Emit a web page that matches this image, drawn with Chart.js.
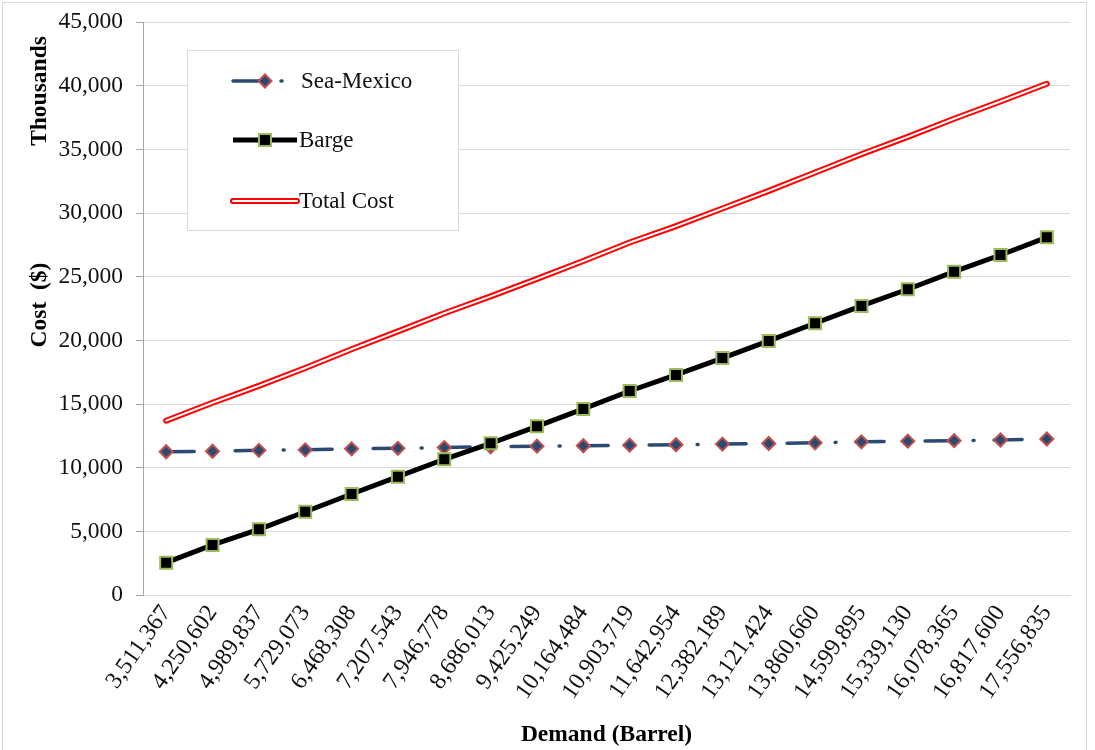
<!DOCTYPE html>
<html>
<head>
<meta charset="utf-8">
<title>Cost vs Demand</title>
<script src="https://cdn.jsdelivr.net/npm/chart.js@4.4.1/dist/chart.umd.min.js"></script>
<style>
  html, body { margin: 0; padding: 0; background: #fff; }
  #wrap { width: 1095px; height: 750px; position: relative; }
  canvas { display: block; }
</style>
</head>
<body>
<div id="wrap"><canvas id="chart" width="1095" height="750"></canvas></div>
<script>
// Demand levels (barrels) used as category labels
const demandLabels = [
  '3,511,367', '4,250,602', '4,989,837', '5,729,073', '6,468,308',
  '7,207,543', '7,946,778', '8,686,013', '9,425,249', '10,164,484',
  '10,903,719', '11,642,954', '12,382,189', '13,121,424', '13,860,660',
  '14,599,895', '15,339,130', '16,078,365', '16,817,600', '17,556,835'
];

// Costs in thousands of dollars
const seaMexico = [
  11250, 11290, 11360, 11400, 11480, 11520, 11580, 11640, 11690, 11720,
  11770, 11800, 11850, 11900, 11950, 12030, 12080, 12120, 12170, 12250
];
const barge = [
  2540, 3930, 5160, 6540, 7930, 9290, 10660, 11910, 13250, 14610,
  16020, 17280, 18610, 19950, 21340, 22700, 24010, 25390, 26700, 28090
];
const totalCost = [
  13690, 15100, 16420, 17830, 19300, 20700, 22130, 23450, 24830, 26230,
  27680, 28970, 30350, 31740, 33180, 34620, 35980, 37400, 38760, 40150
];

// Y axis ticks
const yMax = 45000;
const yStep = 5000;

const FONT = "'Liberation Serif', 'Times New Roman', serif";
const NAVY = '#2B4A72';

// Legend box, axis titles and outer frame
const decorations = {
  id: 'decorations',
  afterDraw(chart) {
    const ctx = chart.ctx;
    const area = chart.chartArea;
    ctx.save();

    // outer frame
    ctx.strokeStyle = '#D9D9D9';
    ctx.lineWidth = 1;
    ctx.strokeRect(2.5, 2.5, 1084, 760);

    // axis titles
    ctx.fillStyle = '#000';
    ctx.font = 'bold 23.5px ' + FONT;
    ctx.textAlign = 'center';
    ctx.textBaseline = 'middle';
    ctx.fillText('Demand (Barrel)', (area.left + area.right) / 2, 735);

    ctx.save();
    ctx.translate(40, 305);
    ctx.rotate(-Math.PI / 2);
    ctx.fillText('Cost  ($)', 0, 0);
    ctx.restore();

    ctx.save();
    ctx.translate(40, 91);
    ctx.rotate(-Math.PI / 2);
    ctx.fillText('Thousands', 0, 0);
    ctx.restore();

    // legend box
    const bx = 187.5, by = 50.5, bw = 271, bh = 180;
    ctx.fillStyle = '#fff';
    ctx.fillRect(bx, by, bw, bh);
    ctx.strokeStyle = '#D9D9D9';
    ctx.strokeRect(bx, by, bw, bh);

    const rows = [
      { ds: chart.data.datasets.find(d => d.label === 'Sea-Mexico'), y: 81 },
      { ds: chart.data.datasets.find(d => d.label === 'Barge'), y: 140 },
      { ds: chart.data.datasets.find(d => d.label === 'Total Cost'), y: 201 }
    ];
    const x0 = 233, x1 = 297;
    rows.forEach(r => {
      const ds = r.ds;
      ctx.save();
      ctx.strokeStyle = ds.borderColor;
      ctx.lineWidth = ds.borderWidth;
      ctx.lineCap = ds.borderCapStyle || 'butt';
      ctx.setLineDash(ds.borderDash || []);
      ctx.beginPath();
      ctx.moveTo(x0, r.y);
      ctx.lineTo(x1, r.y);
      ctx.stroke();
      if (ds.label === 'Total Cost') {
        ctx.strokeStyle = '#fff';
        ctx.lineWidth = 2;
        ctx.beginPath();
        ctx.moveTo(x0, r.y);
        ctx.lineTo(x1, r.y);
        ctx.stroke();
      }
      ctx.setLineDash([]);
      if (ds.pointRadius) {
        ctx.fillStyle = ds.pointBackgroundColor;
        ctx.strokeStyle = ds.pointBorderColor;
        ctx.lineWidth = ds.pointBorderWidth;
        Chart.helpers.drawPoint(ctx, {
          pointStyle: ds.pointStyle,
          radius: ds.pointRadius,
          rotation: 0,
          borderWidth: ds.pointBorderWidth
        }, (x0 + x1) / 2, r.y);
      }
      ctx.restore();
      ctx.fillStyle = '#111';
      ctx.font = '23px ' + FONT;
      ctx.textAlign = 'left';
      ctx.textBaseline = 'middle';
      ctx.fillText(ds.label, ds.label === 'Sea-Mexico' ? 301 : 299, r.y + 1);
    });

    ctx.restore();
  }
};

function build() {
  new Chart(document.getElementById('chart'), {
    type: 'line',
    data: {
      labels: demandLabels,
      datasets: [
        {
          label: '',
          data: totalCost,
          borderColor: '#FFFFFF',
          borderWidth: 2,
          borderCapStyle: 'round',
          pointRadius: 0,
          order: 0
        },
        {
          label: 'Total Cost',
          data: totalCost,
          borderColor: '#FF0000',
          borderWidth: 6,
          borderCapStyle: 'round',
          pointRadius: 0,
          order: 1
        },
        {
          label: 'Barge',
          data: barge,
          borderColor: '#000000',
          borderWidth: 5,
          pointStyle: 'rect',
          pointRadius: 8.5,
          pointBorderWidth: 2,
          pointBackgroundColor: '#000000',
          pointBorderColor: '#9BBB59',
          order: 2
        },
        {
          label: 'Sea-Mexico',
          data: seaMexico,
          borderColor: NAVY,
          borderWidth: 3.5,
          borderDash: [28, 20, 1, 20],
          borderCapStyle: 'round',
          pointStyle: 'rectRot',
          pointRadius: 6.5,
          pointBorderWidth: 2,
          pointBackgroundColor: NAVY,
          pointBorderColor: '#C0504D',
          order: 3
        }
      ]
    },
    options: {
      responsive: false,
      animation: false,
      devicePixelRatio: 1,
      layout: { padding: { top: 22, right: 25, left: 0, bottom: 0 } },
      plugins: {
        legend: { display: false },
        tooltip: { enabled: false }
      },
      elements: { line: { tension: 0, fill: false } },
      scales: {
        x: {
          type: 'category',
          offset: true,
          grid: { display: false, drawTicks: false },
          border: { display: true, color: '#D9D9D9', width: 1 },
          ticks: {
            color: '#111',
            font: { family: FONT, size: 24 },
            minRotation: 55,
            maxRotation: 55,
            padding: 5,
            autoSkip: false
          },
          afterFit(scale) {
            scale.height = 155;
            scale.paddingLeft = 0;
            scale.paddingRight = 0;
          }
        },
        y: {
          min: 0,
          max: yMax,
          grid: {
            color: '#D9D9D9',
            tickColor: '#A6A6A6',
            tickLength: 7,
            drawTicks: true
          },
          border: { display: true, color: '#A6A6A6', width: 1 },
          ticks: {
            stepSize: yStep,
            color: '#111',
            font: { family: FONT, size: 23.5 },
            padding: 13,
            callback: v => v.toLocaleString('en-US')
          },
          afterFit(scale) {
            scale.width = 143;
            scale.paddingTop = 0;
            scale.paddingBottom = 0;
          }
        }
      }
    },
    plugins: [decorations]
  });
}

if (document.fonts && document.fonts.load) {
  Promise.all([
    document.fonts.load('23px "Liberation Serif"'),
    document.fonts.load('bold 23px "Liberation Serif"')
  ]).then(build, build);
} else {
  build();
}
</script>
</body>
</html>
